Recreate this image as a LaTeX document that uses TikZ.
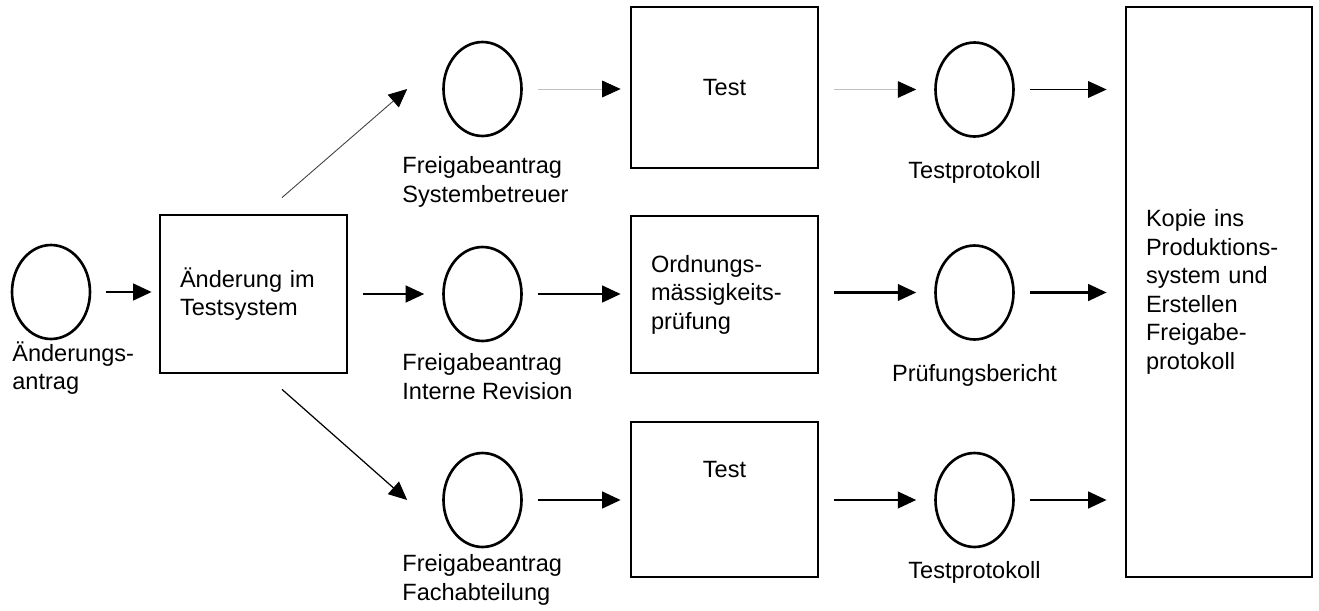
\documentclass[tikz,border=0pt]{standalone}
\usepackage{fontspec}
\setmainfont{Liberation Sans}
\usetikzlibrary{shapes.geometric, arrows.meta, positioning}

\begin{document}
\begin{tikzpicture}[
    x=0.02cm, y=0.02cm,
    font=\fontsize{13.4pt}{16.2pt}\selectfont,
    doc/.style={ellipse, draw, line width=1.5pt, minimum width=1.56cm, minimum height=1.88cm, inner sep=0pt},
    box/.style={rectangle, draw, line width=1.6pt, minimum width=3.74cm, minimum height=3.16cm, inner sep=0pt},
    textbox/.style={box, text width=2.94cm, inner xsep=0.4cm, align=left},
    lbl/.style={inner sep=0pt, align=left},
    arrow/.style={line width=1.2pt, -{Triangle[length=10.5pt, width=9.5pt]}, shorten <=0.3cm},
    thinarrow/.style={arrow, line width=0.5pt, draw=gray!50, -{Triangle[length=10.5pt, width=9.5pt, color=black]}}
]
\useasboundingbox (0,0) rectangle (1319,610);

% start
\node (antrag) [doc] at (51,318) {};
\node (antraglbl) [lbl, below right=0.02cm and -0.78cm of antrag.south] {Änderungs-\\antrag};
\node (change) [textbox] at (253.5,316) {Änderung im\\Testsystem};

% requests
\node (reqsys) [doc] at (482.5,521) {};
\node (reqsyslbl) [lbl, below right=0.38cm and -1.61cm of reqsys.south] {Freigabeantrag\\Systembetreuer};
\node (reqrev) [doc] at (482.5,316) {};
\node (reqrevlbl) [lbl, below right=0.22cm and -1.61cm of reqrev.south] {Freigabeantrag\\Interne Revision};
\node (reqfach) [doc] at (482.5,110) {};
\node (reqfachlbl) [lbl, below right=0.12cm and -1.61cm of reqfach.south] {Freigabeantrag\\Fachabteilung};

% checks
\node (testsys) [box, minimum height=3.22cm] at (724.5,522.5) {Test};
\node (audit) [textbox, minimum height=3.14cm] at (724.5,315.5) {Ordnungs-\\mässigkeits-\\prüfung};
\node (testfach) [box, minimum height=3.1cm, text depth=1.2cm] at (724.5,110.5) {Test};

% results
\node (protsys) [doc] at (974.5,520.5) {};
\node (protsyslbl) [lbl, below=0.46cm of protsys] {Testprotokoll};
\node (report) [doc] at (974.5,317.5) {};
\node (reportlbl) [lbl, below=0.46cm of report] {Prüfungsbericht};
\node (protfach) [doc] at (974.5,110) {};
\node (protfachlbl) [lbl, below=0.26cm of protfach] {Testprotokoll};

\node (prod) [textbox, minimum width=3.72cm, text width=2.92cm, minimum height=11.4cm] at (1219,318) {Kopie ins\\Produktions-\\system und\\Erstellen\\Freigabe-\\protokoll};

\draw [arrow, shorten >=0.14cm] (antrag.east) -- (antrag.east -| change.west);
\draw [thinarrow, draw=black!75, shorten <=0pt] ([shift={(28.5,16)}]change.north) -- ([xshift=-0.7cm]reqsys.west);
\draw [arrow, shorten >=0.36cm] (change.east) -- (change.east -| reqrev.west);
\draw [arrow, line width=0.7pt, shorten <=0pt] ([shift={(28.5,-15)}]change.south) -- ([xshift=-0.7cm]reqfach.west);

\draw [thinarrow, shorten >=0.18cm] (reqsys.east) -- (reqsys.east -| testsys.west);
\draw [arrow, shorten >=0.18cm] (reqrev.east) -- (reqrev.east -| audit.west);
\draw [arrow, shorten >=0.18cm] (reqfach.east) -- (reqfach.east -| testfach.west);

\draw [thinarrow, shorten >=0.36cm] (testsys.east |- protsys.east) -- (protsys.west);
\draw [arrow, shorten >=0.36cm] (audit.east |- report.east) -- (report.west);
\draw [arrow, shorten >=0.36cm] (testfach.east |- protfach.east) -- (protfach.west);

\draw [arrow, line width=0.6pt, shorten >=0.36cm] (protsys.east) -- (protsys.east -| prod.west);
\draw [arrow, shorten >=0.36cm] (report.east) -- (report.east -| prod.west);
\draw [arrow, shorten >=0.36cm] (protfach.east) -- (protfach.east -| prod.west);

\end{tikzpicture}
\end{document}
